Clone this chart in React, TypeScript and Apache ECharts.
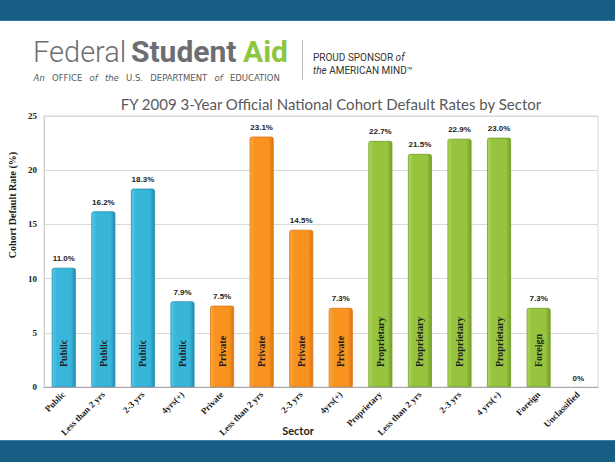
import React, { useEffect, useRef } from "react";
import * as echarts from "echarts";

const categories = [
  "Public", "Less than 2 yrs", "2-3 yrs", "4yrs(+)",
  "Private", "Less than 2 yrs", "2-3 yrs", "4yrs(+)",
  "Proprietary", "Less than 2 yrs", "2-3 yrs", "4 yrs(+)",
  "Foreign", "Unclassified",
];
const values = [11.0, 16.2, 18.3, 7.9, 7.5, 23.1, 14.5, 7.3, 22.7, 21.5, 22.9, 23.0, 7.3, 0];
const sectors = [
  "Public", "Public", "Public", "Public",
  "Private", "Private", "Private", "Private",
  "Proprietary", "Proprietary", "Proprietary", "Proprietary",
  "Foreign", "Unclassified",
];
const yTicks = [0, 5, 10, 15, 20, 25];

const palette: Record<string, [string, string, string]> = {
  Public: ["#55cbea", "#38b6da", "#238cae"],
  Private: ["#ffa83f", "#f7931e", "#dc7418"],
  Proprietary: ["#afd858", "#96c43f", "#739e2a"],
  Foreign: ["#afd858", "#96c43f", "#739e2a"],
  Unclassified: ["#cccccc", "#bbbbbb", "#999999"],
};

const BAND = "#175e85";
const SERIF = '"Liberation Serif", "Times New Roman", serif';

export default function App() {
  const ref = useRef<HTMLDivElement>(null);
  useEffect(() => {
    if (!ref.current) return;
    const chart = echarts.init(ref.current, undefined, { renderer: "svg" });
    const data = values.map((v, i) => {
      const [l, m, d] = palette[sectors[i]];
      return {
        value: v,
        itemStyle: {
          color: new echarts.graphic.LinearGradient(0, 0, 1, 0, [
            { offset: 0, color: l },
            { offset: 0.2, color: m },
            { offset: 0.8, color: m },
            { offset: 1, color: d },
          ]),
          borderColor: d,
          borderWidth: v === 0 ? 0 : 0.8,
          borderRadius: [2, 2, 0, 0],
        },
      };
    });
    const subRich = {
      a: { fontFamily: '"DejaVu Sans"', fontStyle: "italic", fontSize: 8.5, fill: "#58595b", padding: [0, 3.6] },
      b: { fontFamily: '"DejaVu Sans"', fontSize: 8.5, fill: "#58595b", padding: [0, 3.6] },
    };
    chart.setOption({
      animation: false,
      backgroundColor: "#ffffff",
      grid: {
        left: 44, top: 116, right: 17, bottom: 75,
        show: true, borderColor: "#d9d9d9", borderWidth: 1,
      },
      xAxis: {
        type: "category",
        data: categories,
        axisLine: { show: true, lineStyle: { color: "#a6a6a6" } },
        axisTick: { show: false },
        axisLabel: {
          interval: 0, rotate: 45, margin: 6,
          fontFamily: SERIF, fontWeight: "bold", fontSize: 9, color: "#1a1a1a",
        },
      },
      yAxis: {
        type: "value",
        min: yTicks[0], max: yTicks[yTicks.length - 1], interval: 5,
        axisLine: { show: true, lineStyle: { color: "#d0d0d0" } },
        axisTick: { show: false },
        splitLine: { lineStyle: { color: "#d9d9d9" } },
        axisLabel: {
          margin: 7, fontFamily: SERIF, fontWeight: "bold", fontSize: 9, color: "#1a1a1a",
        },
      },
      series: [
        {
          type: "bar",
          data,
          barWidth: 24,
          label: {
            show: true,
            position: "top",
            distance: 5,
            fontFamily: '"Liberation Sans", Arial, sans-serif',
            fontWeight: "bold",
            fontSize: 8,
            color: "#222",
            formatter: (p: any) => (p.value === 0 ? "0%" : p.value.toFixed(1) + "%"),
          },
          z: 2,
        },
        {
          type: "bar",
          data: values.map((v, i) => (sectors[i] === "Unclassified" ? null : v)),
          barWidth: 24,
          barGap: "-100%",
          itemStyle: { color: "rgba(0,0,0,0)" },
          silent: true,
          label: {
            show: true,
            position: "insideBottom",
            distance: 20,
            rotate: 90,
            align: "left",
            verticalAlign: "middle",
            fontFamily: SERIF,
            fontWeight: "bold",
            fontSize: 10,
            color: "#1e1e1e",
            formatter: (p: any) => sectors[p.dataIndex],
          },
          z: 3,
        },
      ],
      graphic: [
        { type: "rect", left: 0, top: 0, shape: { width: 615, height: 20 }, style: { fill: BAND } },
        { type: "rect", left: 0, top: 20, shape: { width: 615, height: 1 }, style: { fill: "#3c7ea3" } },
        { type: "rect", left: 0, top: 441, shape: { width: 615, height: 21 }, style: { fill: BAND } },
        { type: "rect", left: 0, top: 440, shape: { width: 615, height: 1 }, style: { fill: "#3c7ea3" } },
        {
          type: "text", x: 33, y: 66,
          style: { text: "Federal", fontFamily: "Roboto", fontWeight: 300, fontSize: 29, fill: "#6d6e71", verticalAlign: "bottom", textVerticalAlign: "bottom" },
        },
        {
          type: "text", x: 131, y: 66,
          style: { text: "Student", fontFamily: "Roboto", fontWeight: "bold", fontSize: 30, fill: "#6d6e71", verticalAlign: "bottom", textVerticalAlign: "bottom" },
        },
        {
          type: "text", x: 243, y: 66,
          style: { text: "Aid", fontFamily: "Roboto", fontWeight: "bold", fontSize: 30, fill: "#8dc63f", verticalAlign: "bottom", textVerticalAlign: "bottom" },
        },
        {
          type: "text", x: 30, y: 78,
          style: {
            text: "{a|An}{b|OFFICE}{a|of}{a|the}{b|U.S.}{b|DEPARTMENT}{a|of}{b|EDUCATION}",
            verticalAlign: "middle", textVerticalAlign: "middle",
            rich: subRich,
            fontFamily: '"DejaVu Sans"', fontSize: 8.5, fill: "#58595b",
          },
        },
        { type: "rect", left: 302, top: 40, shape: { width: 1, height: 40 }, style: { fill: "#bfbfbf" } },
        {
          type: "text", x: 313, y: 57,
          style: {
            text: "{b|PROUD SPONSOR }{a|of}",
            verticalAlign: "middle", textVerticalAlign: "middle",
            rich: {
              a: { fontFamily: "Roboto", fontStyle: "italic", fontSize: 10, fill: "#333" },
              b: { fontFamily: "Roboto", fontSize: 10, fill: "#333" },
            },
            fontFamily: "Roboto", fontSize: 10, fill: "#333",
          },
        },
        {
          type: "text", x: 313, y: 70,
          style: {
            text: "{a|the} {b|AMERICAN MIND™}",
            verticalAlign: "middle", textVerticalAlign: "middle",
            rich: {
              a: { fontFamily: "Roboto", fontStyle: "italic", fontSize: 10, fill: "#333" },
              b: { fontFamily: "Roboto", fontSize: 10, fill: "#333" },
            },
            fontFamily: "Roboto", fontSize: 10, fill: "#333",
          },
        },
        {
          type: "text", x: 331, y: 104,
          style: {
            text: "FY 2009 3-Year Official National Cohort Default Rates by Sector",
            fontFamily: "Lato", fontSize: 15, fill: "#595959",
            align: "center", verticalAlign: "middle", textAlign: "center", textVerticalAlign: "middle",
          },
        },
        {
          type: "text", x: 12, y: 205, rotation: Math.PI / 2,
          style: {
            text: "Cohort Default Rate (%)",
            fontFamily: SERIF, fontWeight: "bold", fontSize: 10, fill: "#1a1a1a",
            align: "center", verticalAlign: "middle", textAlign: "center", textVerticalAlign: "middle",
          },
        },
        {
          type: "text", x: 298, y: 430,
          style: {
            text: "Sector",
            fontFamily: "Lato", fontWeight: "bold", fontSize: 11, fill: "#262626",
            align: "center", verticalAlign: "middle", textAlign: "center", textVerticalAlign: "middle",
          },
        },
      ],
    });
    return () => chart.dispose();
  }, []);
  return (
    <div
      ref={ref}
      style={{ position: "fixed", left: 0, top: 0, width: 615, height: 462 }}
    />
  );
}
